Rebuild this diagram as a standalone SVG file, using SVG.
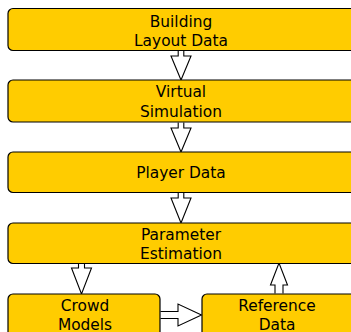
<svg xmlns="http://www.w3.org/2000/svg" width="351" height="332" viewBox="0 0 351 332">
<style>
.box{fill:#ffcc00;stroke:#000;stroke-width:1.2}
.t{font-family:"DejaVu Sans","Liberation Sans",sans-serif;font-size:15.4px;fill:#000;text-anchor:middle}
.arr{fill:#fff;stroke:#000;stroke-width:1.1;stroke-linejoin:miter}
</style>
<rect width="351" height="332" fill="#fff"/>
<g id="connectors">
<path class="arr" d="M178.2,50.5 V56 H171 L181,80 L191,56 H183.8 V50.5"/>
<path class="arr" d="M178.2,122.5 V128 H171 L181,152 L191,128 H183.8 V122.5"/>
<path class="arr" d="M178.2,192.5 V198 H171 L181,223 L191,198 H183.8 V192.5"/>
<path class="arr" d="M78.5,263.5 V268 H71.5 L81.5,294 L91.5,268 H84.5 V263.5"/>
<path class="arr" d="M275,293.5 V285 H270.5 L279,263 L287.5,285 H283 V293.5"/>
<path class="arr" d="M160.5,311.5 H178 V304 L201.5,315 L178,326 V318.5 H160.5"/>
</g>
<g id="n1"><rect class="box" x="8" y="8.5" width="348" height="42" rx="5"/><text class="t" x="181" y="26.5">Building</text><text class="t" x="181" y="45.5">Layout Data</text></g>
<g id="n2"><rect class="box" x="8" y="80" width="348" height="42" rx="5"/><text class="t" x="181" y="97">Virtual</text><text class="t" x="181" y="116.5">Simulation</text></g>
<g id="n3"><rect class="box" x="8" y="152" width="348" height="40.5" rx="5"/><text class="t" x="181" y="178">Player Data</text></g>
<g id="n4"><rect class="box" x="8" y="223" width="348" height="40.5" rx="5"/><text class="t" x="181" y="239.5">Parameter</text><text class="t" x="181" y="258.5">Estimation</text></g>
<g id="n5"><rect class="box" x="8" y="294" width="152" height="44" rx="5"/><text class="t" x="85" y="311">Crowd</text><text class="t" x="85" y="329.5">Models</text></g>
<g id="n6"><rect class="box" x="202" y="294" width="154" height="44" rx="5"/><text class="t" x="277" y="311">Reference</text><text class="t" x="277" y="329.5">Data</text></g>
</svg>
